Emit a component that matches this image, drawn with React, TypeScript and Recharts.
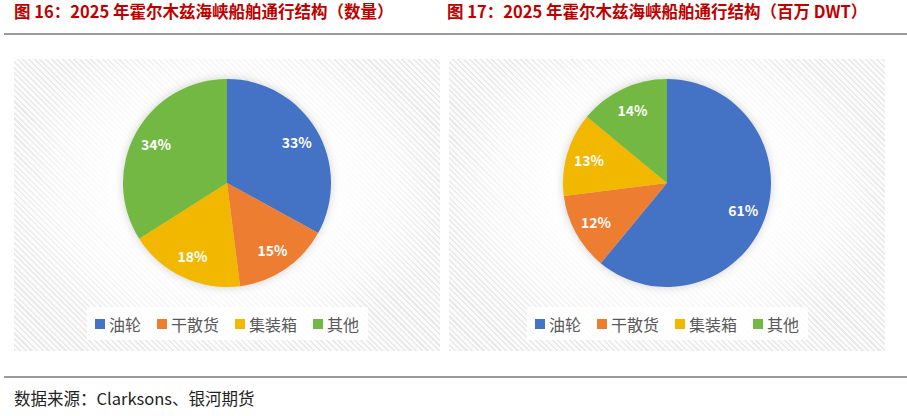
import React from 'react';
import { PieChart, Pie, Cell, Legend } from 'recharts';

// categories and shares (%)
const categories = ['油轮', '干散货', '集装箱', '其他'];
const countShares = [33, 15, 18, 34];
const dwtShares = [61, 12, 13, 14];
const colors = ['#4472C4', '#ED7D31', '#F2B800', '#72B843'];

const titles = [
  '图 16：2025 年霍尔木兹海峡船舶通行结构（数量）',
  '图 17：2025 年霍尔木兹海峡船舶通行结构（百万 DWT）',
];
const sourceText = '数据来源：Clarksons、银河期货';

const FONT = '"Noto Sans CJK SC", "Noto Sans", sans-serif';
const RAD = Math.PI / 180;

const buildData = (shares: number[]) =>
  categories.map((name, i) => ({ name, value: shares[i] }));

const renderLabel = (props: any) => {
  const { cx, cy, midAngle, outerRadius, value } = props;
  const r = outerRadius * 0.78;
  const x = cx + r * Math.cos(-midAngle * RAD);
  const y = cy + r * Math.sin(-midAngle * RAD);
  return (
    <text
      x={x}
      y={y}
      fill="#fff"
      textAnchor="middle"
      dominantBaseline="central"
      style={{ fontSize: 14, fontWeight: 700, fontFamily: FONT }}
    >
      {`${value}%`}
    </text>
  );
};

// legend keeps the category order (the default payload gets sorted)
const LegendBox = () => (
  <div
    style={{
      display: 'flex',
      justifyContent: 'center',
      alignItems: 'center',
      background: 'rgba(255,255,255,0.85)',
      height: 33,
      width: 281,
      margin: '0 auto',
    }}
  >
    {categories.map((name, i) => (
      <div
        key={name}
        style={{ display: 'flex', alignItems: 'center', marginLeft: i === 0 ? 0 : 16 }}
      >
        <span style={{ width: 10, height: 10, background: colors[i], marginRight: 4, display: 'inline-block' }} />
        <span style={{ fontSize: 16, color: '#595959', fontFamily: FONT, lineHeight: '20px' }}>{name}</span>
      </div>
    ))}
  </div>
);

function PiePanel({ shares, left, width }: { shares: number[]; left: number; width: number }) {
  const height = 292;
  return (
    <div
      style={{
        position: 'absolute',
        left,
        top: 59,
        width,
        height,
        background: 'repeating-linear-gradient(45deg, #e9e9e9 0px, #e9e9e9 1.5px, #fbfbfb 1.5px, #fbfbfb 4px)',
      }}
    >
      <div
        style={{
          position: 'absolute',
          inset: 0,
          background:
            'radial-gradient(ellipse 52% 58% at 50% 44%, rgba(255,255,255,1) 45%, rgba(255,255,255,0.6) 75%, rgba(255,255,255,0) 100%)',
        }}
      />
      <div style={{ position: 'absolute', left: 0, top: 0 }}>
        <PieChart width={width} height={height} margin={{ top: 0, right: 0, bottom: 0, left: 0 }}>
          <Pie
            data={buildData(shares)}
            dataKey="value"
            nameKey="name"
            cx={width / 2}
            cy={124}
            outerRadius={104}
            startAngle={90}
            endAngle={-270}
            stroke="none"
            label={renderLabel}
            labelLine={false}
            isAnimationActive={false}
          >
            {shares.map((_, i) => (
              <Cell key={i} fill={colors[i]} />
            ))}
          </Pie>
          <Legend
            verticalAlign="bottom"
            content={<LegendBox />}
            wrapperStyle={{ bottom: 11, left: 0, width }}
          />
        </PieChart>
      </div>
    </div>
  );
}

const titleStyle: React.CSSProperties = {
  position: 'absolute',
  top: 0,
  fontSize: 16.5,
  fontWeight: 700,
  color: '#C00000',
  lineHeight: '22px',
  whiteSpace: 'nowrap',
};

export default function App() {
  return (
    <div
      style={{
        position: 'absolute',
        left: 0,
        top: 0,
        width: 907,
        height: 416,
        background: '#fff',
        fontFamily: FONT,
        overflow: 'hidden',
      }}
    >
      <style>{`.recharts-pie { filter: drop-shadow(0 0 5px rgba(0,0,0,0.18)); }`}</style>
      <div style={{ ...titleStyle, left: 14 }}>{titles[0]}</div>
      <div style={{ ...titleStyle, left: 447 }}>{titles[1]}</div>
      <div style={{ position: 'absolute', left: 4, top: 33, width: 903, height: 1.5, background: '#9a9a9a' }} />

      <PiePanel shares={countShares} left={14} width={426} />
      <PiePanel shares={dwtShares} left={449} width={436} />

      <div style={{ position: 'absolute', left: 4, top: 376, width: 903, height: 1.5, background: '#9a9a9a' }} />
      <div style={{ position: 'absolute', left: 14, top: 387, fontSize: 16.5, color: '#222', lineHeight: '22px', whiteSpace: 'nowrap' }}>
        {sourceText}
      </div>
    </div>
  );
}
